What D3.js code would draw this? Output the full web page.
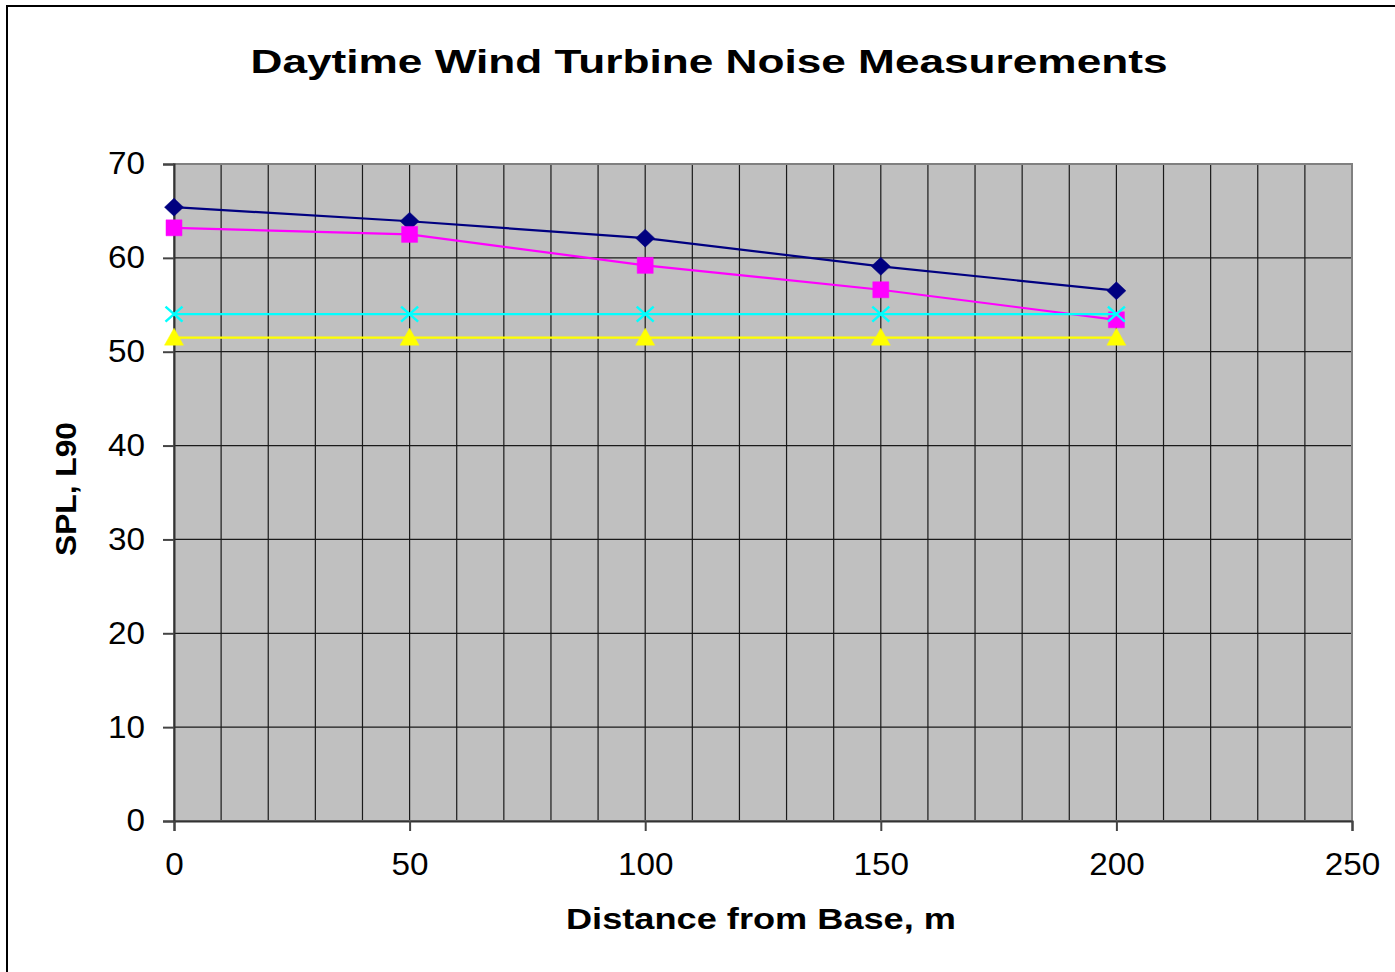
<!DOCTYPE html>
<html>
<head>
<meta charset="utf-8">
<script src="https://cdn.jsdelivr.net/npm/d3@7/dist/d3.min.js"></script>
<style>
  html, body { margin: 0; padding: 0; background: #fff; }
  svg { display: block; }
  text { font-family: "Liberation Sans", Arial, sans-serif; fill: #000; }
</style>
</head>
<body>
<div id="chart"></div>
<script>
// data
const distances = [0, 50, 100, 150, 200]
const seriesA = [65.4, 63.9, 62.1, 59.1, 56.5]   // navy diamonds
const seriesB = [63.2, 62.5, 59.2, 56.6, 53.4]   // magenta squares
const seriesC = [51.5, 51.5, 51.5, 51.5, 51.5]   // yellow triangles
const seriesD = [54.0, 54.0, 54.0, 54.0, 54.0]   // cyan crosses
const xTicks = [0, 50, 100, 150, 200, 250]
const yTicks = [0, 10, 20, 30, 40, 50, 60, 70]

const W = 1395, H = 972
const margin = { left: 174, right: W - 1352, top: 164, bottom: H - 821 }

const svg = d3.select('#chart')
  .append('svg')
  .attr('width', W)
  .attr('height', H)

// outer chart border (cut off at right / bottom in the original)
svg.append('rect')
  .attr('x', 7).attr('y', 6)
  .attr('width', W + 20).attr('height', H + 20)
  .attr('fill', '#fff')
  .attr('stroke', '#000')
  .attr('stroke-width', 2)

const x = d3.scaleLinear()
  .domain([0, 250])
  .range([margin.left, W - margin.right])
const y = d3.scaleLinear()
  .domain([0, 70])
  .range([H - margin.bottom, margin.top])

// plot area
svg.append('rect')
  .attr('x', x(0)).attr('y', y(70))
  .attr('width', x(250) - x(0)).attr('height', y(0) - y(70))
  .attr('fill', '#c0c0c0')

// grid
const grid = svg.append('g').attr('class', 'grid')
grid.selectAll('line.v')
  .data(d3.range(10, 250, 10))
  .join('line')
  .attr('class', 'v')
  .attr('x1', d => x(d)).attr('x2', d => x(d))
  .attr('y1', y(0)).attr('y2', y(70))
  .attr('stroke', '#1a1a1a')
  .attr('stroke-width', 1.2)
grid.selectAll('line.h')
  .data(yTicks.slice(1, -1))
  .join('line')
  .attr('class', 'h')
  .attr('x1', x(0)).attr('x2', x(250))
  .attr('y1', d => y(d)).attr('y2', d => y(d))
  .attr('stroke', '#1a1a1a')
  .attr('stroke-width', 1.2)

// plot border
svg.append('rect')
  .attr('x', x(0)).attr('y', y(70))
  .attr('width', x(250) - x(0)).attr('height', y(0) - y(70))
  .attr('fill', 'none')
  .attr('stroke', '#808080')
  .attr('stroke-width', 2)

// axes
const yAxis = svg.append('g')
  .attr('transform', `translate(${x(0)},0)`)
  .call(d3.axisLeft(y).tickValues(yTicks).tickSize(11).tickPadding(18))
const xAxis = svg.append('g')
  .attr('transform', `translate(0,${y(0)})`)
  .call(d3.axisBottom(x).tickValues(xTicks).tickSize(10).tickPadding(22))

;[yAxis, xAxis].forEach(g => {
  g.select('.domain').attr('stroke', '#333').attr('stroke-width', 2)
  g.selectAll('.tick line').attr('stroke', '#444').attr('stroke-width', 2)
  g.selectAll('.tick text')
    .style('font-family', '"Liberation Sans", Arial, sans-serif')
    .style('font-size', '31px')
    .attr('fill', '#000')
    .attr('textLength', d => String(d).length * 18.5)
    .attr('lengthAdjust', 'spacingAndGlyphs')
})
xAxis.selectAll('.tick text').attr('dy', '0.7em')

// series
const line = d3.line()
  .x(d => x(d[0]))
  .y(d => y(d[1]))

const series = [
  { name: 'A', values: seriesA, color: '#000080', marker: 'diamond' },
  { name: 'B', values: seriesB, color: '#ff00ff', marker: 'square' },
  { name: 'C', values: seriesC, color: '#ffff00', marker: 'triangle' },
  { name: 'D', values: seriesD, color: '#00ffff', marker: 'cross' }
]

function markerPath(type, cx, cy) {
  const p = d3.path()
  if (type === 'diamond') {
    p.moveTo(cx, cy - 9); p.lineTo(cx + 9.5, cy); p.lineTo(cx, cy + 9); p.lineTo(cx - 9.5, cy); p.closePath()
  } else if (type === 'square') {
    p.rect(cx - 8, cy - 8, 16, 16)
  } else if (type === 'triangle') {
    p.moveTo(cx, cy - 9.5); p.lineTo(cx + 9.5, cy + 7.5); p.lineTo(cx - 9.5, cy + 7.5); p.closePath()
  } else if (type === 'cross') {
    p.moveTo(cx - 8.5, cy - 7.5); p.lineTo(cx + 8.5, cy + 7.5)
    p.moveTo(cx + 8.5, cy - 7.5); p.lineTo(cx - 8.5, cy + 7.5)
  }
  return p.toString()
}

series.forEach(s => {
  const pts = distances.map((d, i) => [d, s.values[i]])
  const g = svg.append('g').attr('class', 'series-' + s.name)
  g.append('path')
    .datum(pts)
    .attr('d', line)
    .attr('fill', 'none')
    .attr('stroke', s.color)
    .attr('stroke-width', 2.2)
  g.selectAll('path.mark')
    .data(pts)
    .join('path')
    .attr('class', 'mark')
    .attr('d', d => markerPath(s.marker, x(d[0]), y(d[1])))
    .attr('fill', s.marker === 'cross' ? 'none' : s.color)
    .attr('stroke', s.color)
    .attr('stroke-width', s.marker === 'cross' ? 2.5 : 0.5)
})

// titles
svg.append('text')
  .attr('x', 709).attr('y', 73)
  .attr('text-anchor', 'middle')
  .attr('textLength', 917)
  .attr('lengthAdjust', 'spacingAndGlyphs')
  .style('font-size', '34px')
  .style('font-weight', 'bold')
  .text('Daytime Wind Turbine Noise Measurements')

svg.append('text')
  .attr('x', 761).attr('y', 929)
  .attr('text-anchor', 'middle')
  .attr('textLength', 390)
  .attr('lengthAdjust', 'spacingAndGlyphs')
  .style('font-size', '30px')
  .style('font-weight', 'bold')
  .text('Distance from Base, m')

svg.append('text')
  .attr('transform', 'translate(76,489) rotate(-90)')
  .attr('text-anchor', 'middle')
  .attr('textLength', 134)
  .attr('lengthAdjust', 'spacingAndGlyphs')
  .style('font-size', '29px')
  .style('font-weight', 'bold')
  .text('SPL, L90')
</script>
</body>
</html>
